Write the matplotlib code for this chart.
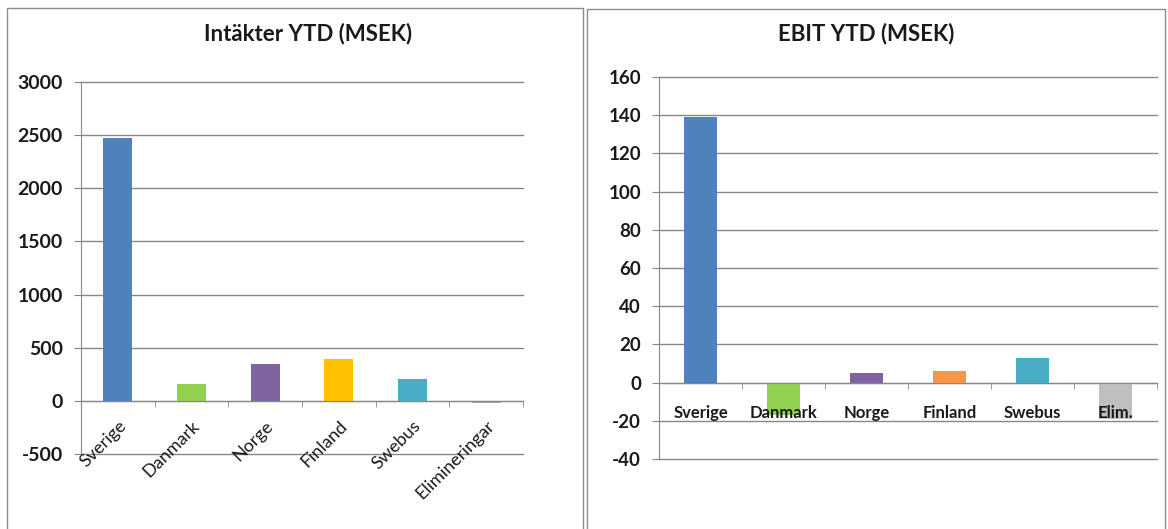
#!/usr/bin/env python3
"""Intäkter and EBIT YTD per segment, two Excel-style bar panels."""

import matplotlib

matplotlib.use("Agg")
import matplotlib.pyplot as plt  # noqa: E402
from matplotlib.patches import Rectangle  # noqa: E402

plt.rcParams["font.family"] = ["Lato", "DejaVu Sans"]

# Left panel: revenue
rev_labels = ["Sverige", "Danmark", "Norge", "Finland", "Swebus", "Elimineringar"]
rev_values = [2470, 160, 350, 390, 205, -20]
rev_colors = ["#4F81BD", "#92D050", "#8064A2", "#FFC000", "#4BACC6", "#A6A6A6"]
rev_ticks = [-500, 0, 500, 1000, 1500, 2000, 2500, 3000]

# Right panel: EBIT
ebit_labels = ["Sverige", "Danmark", "Norge", "Finland", "Swebus", "Elim."]
ebit_values = [139, -17, 5, 6, 13, -19]
ebit_colors = ["#4F81BD", "#92D050", "#8064A2", "#F79646", "#4BACC6", "#BFBFBF"]
ebit_ticks = [-40, -20, 0, 20, 40, 60, 80, 100, 120, 140, 160]

GRID = "#878787"
W, H = 1168, 529


def _panel(fig, box, rect, title, title_x, title_size, labels, values, colors,
           ticks, ytick_size, xlabel_kw, xpad):
    # outer frame of the chart object
    x0, y0, x1 = box
    fig.patches.append(Rectangle((x0 / W, -0.05), (x1 - x0) / W, 1 - y0 / H + 0.05,
                                 transform=fig.transFigure, fill=False,
                                 edgecolor="#8c8c8c", linewidth=1.0))
    fig.text(title_x / W, 1 - 34 / H, title, ha="center", va="center",
             fontsize=title_size, fontweight="bold", color="#1a1a1a")

    ax = fig.add_axes(rect)
    x = list(range(len(values)))
    # gridlines under the bars, axis (labels, zero line) above them
    for t in ticks:
        ax.axhline(t, color=GRID, linewidth=1.0, zorder=1, clip_on=False)
    ax.bar(x, values, width=0.39, color=colors, zorder=2)
    ax.set_axisbelow(False)
    ax.set_xlim(-0.5, len(values) - 0.5)
    ax.set_ylim(ticks[0], ticks[-1])
    ax.set_yticks(ticks)
    ax.set_yticklabels([str(t) for t in ticks], fontsize=ytick_size,
                       fontweight="bold", color="#1a1a1a")

    for side in ("top", "right"):
        ax.spines[side].set_visible(False)
    ax.spines["left"].set_color(GRID)
    ax.spines["bottom"].set_color(GRID)
    ax.spines["bottom"].set_position(("data", 0))

    ax.set_xticks(x)
    ax.set_xticklabels(labels, **xlabel_kw)
    ax.set_xticks([i - 0.5 for i in range(len(values) + 1)], minor=True)
    ax.tick_params(axis="x", which="major", length=0, pad=xpad)
    ax.tick_params(axis="x", which="minor", length=4, direction="out", color=GRID)
    ax.tick_params(axis="y", length=5, color=GRID, pad=8)
    return ax


def main() -> int:
    fig = plt.figure(figsize=(W / 100, H / 100), dpi=100)

    _panel(fig, (7, 8, 583),
           [81 / W, 1 - 454 / H, 442 / W, (454 - 82) / H],
           "Intäkter YTD (MSEK)", 308, 16,
           rev_labels, rev_values, rev_colors, rev_ticks, 14,
           dict(rotation=45, ha="right", rotation_mode="anchor",
                fontsize=13, color="#1a1a1a"), 12)

    _panel(fig, (587, 9, 1165),
           [659 / W, 1 - 459 / H, 498 / W, (459 - 77) / H],
           "EBIT YTD (MSEK)", 866, 16,
           ebit_labels, ebit_values, ebit_colors, ebit_ticks, 13.5,
           dict(fontsize=12, fontweight="bold", color="#1a1a1a"), 16)

    fig.savefig("out.png", dpi=100)
    plt.close(fig)
    return 0


if __name__ == "__main__":
    raise SystemExit(main())
